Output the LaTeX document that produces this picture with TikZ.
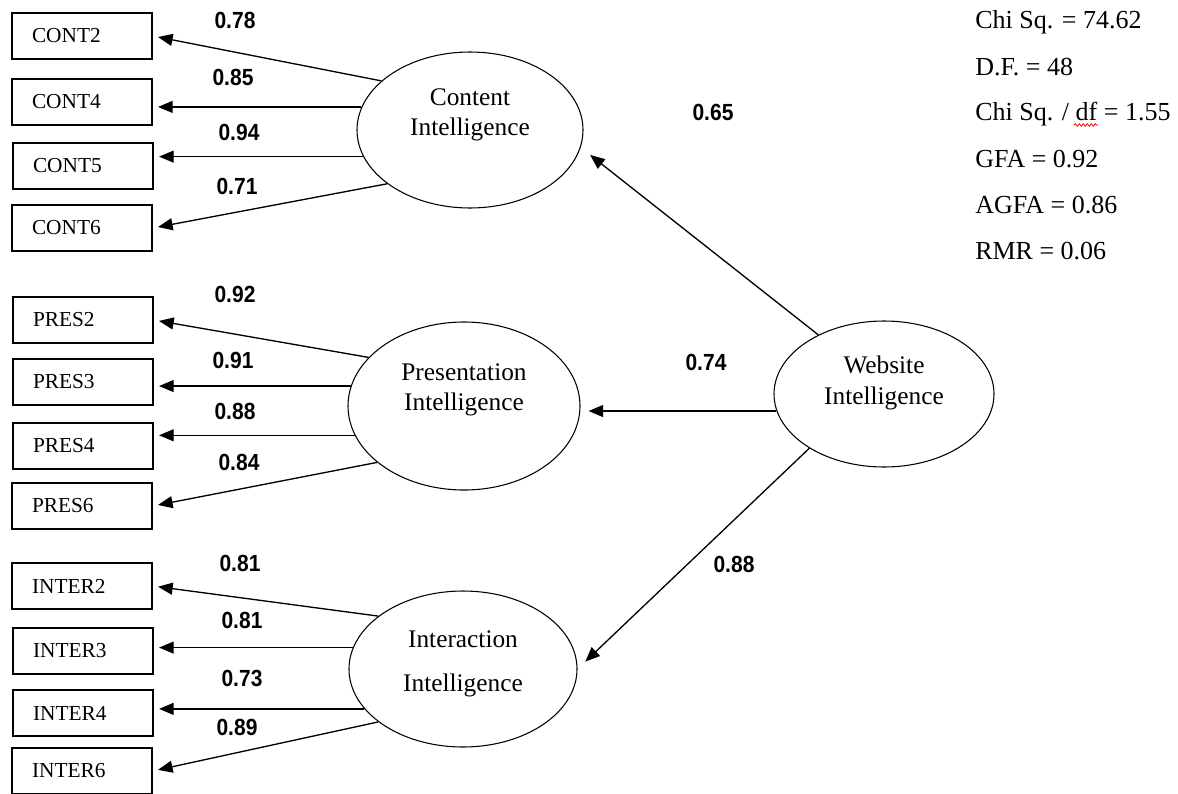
\documentclass[tikz,border=0pt]{standalone}
\usepackage{fontspec}
\setmainfont{Liberation Serif}
\newfontfamily\coeffont[FakeStretch=0.9]{Liberation Sans}
\usetikzlibrary{shapes.geometric,arrows.meta,decorations.pathmorphing}

\begin{document}
\begin{tikzpicture}
[
x=0.75pt,y=-0.75pt,
indicator/.style={draw,line width=1.1pt,rectangle,minimum height=34.5pt,text width=75pt,inner xsep=15pt,align=left,font=\fontsize{16}{19}\selectfont},
latent/.style 2 args={draw,line width=0.8pt,ellipse,inner sep=0pt,minimum width=#1,minimum height=#2},
lattext/.style={align=center,inner sep=0pt,font=\fontsize{19}{23}\selectfont},
coef/.style={inner sep=0pt,font=\coeffont\bfseries\fontsize{17.5}{20}\selectfont},
stat/.style={anchor=base west,inner sep=0pt,font=\fontsize{19.5}{23}\selectfont},
loading/.style={-{Triangle[length=11pt,width=9pt]},line width=1pt,shorten >=4pt},
]
\useasboundingbox (0,0) rectangle (1178,793);

%Place the nodes
\node[indicator] (cont2) at (82,36) {CONT2};
\node[indicator] (cont4) at (82,102) {CONT4};
\node[indicator] (cont5) at (83,166) {CONT5};
\node[indicator] (cont6) at (82,228) {CONT6};
\node[indicator] (pres2) at (83,320) {PRES2};
\node[indicator] (pres3) at (83,382) {PRES3};
\node[indicator] (pres4) at (83,446) {PRES4};
\node[indicator] (pres6) at (82,506) {PRES6};
\node[indicator] (inter2) at (82,586) {INTER2};
\node[indicator] (inter3) at (83,651) {INTER3};
\node[indicator] (inter4) at (83,713) {INTER4};
\node[indicator] (inter6) at (82,771) {INTER6};

\node[latent={169.5pt}{117pt}] (cont) at (470,130) {};
\node[latent={174pt}{126pt}] (pres) at (464,406) {};
\node[latent={171pt}{117pt}] (inter) at (463,669) {};
\node[latent={165pt}{109.5pt}] (web) at (884,394) {};
\node[lattext] (conttext) at (470,115) {Content\\Intelligence};
\node[lattext] (prestext) at (464,390) {Presentation\\Intelligence};
\node[lattext] (intertext) at (463,664) {Interaction\\[10.5pt]Intelligence};
\node[lattext] (webtext) at (884,383) {Website\\Intelligence};

%Draw the connections
\draw[loading] (cont.151) -- (cont2.east);
\draw[loading] (cont.168) -- (cont.168 -| cont4.east);
\draw[loading] (cont.194) -- (cont.194 -| cont5.east);
\draw[loading] (cont.213) -- (cont6.east);
\draw[loading] (pres.153) -- (pres2.east);
\draw[loading] (pres.170) -- (pres.170 -| pres3.east);
\draw[loading] (pres.195) -- (pres.195 -| pres4.east);
\draw[loading] (pres.213) -- (pres6.east);
\draw[loading] (inter.148) -- (inter2.east);
\draw[loading] (inter.169) -- (inter.169 -| inter3.east);
\draw[loading] (inter.202) -- (inter.202 -| inter4.east);
\draw[loading] (inter.212) -- (inter6.east);
\draw[loading,shorten >=9pt] (web.138) -- (cont.351);
\draw[loading,shorten >=6pt] (web.189) -- (web.189 -| pres.east);
\draw[loading,shorten >=8pt] (web.216) -- (inter.east);

%Coefficients
\node[coef] (lcont2) at (235,20) {0.78};
\node[coef] (lcont4) at (233,77) {0.85};
\node[coef] (lcont5) at (239,132) {0.94};
\node[coef] (lcont6) at (237,186) {0.71};
\node[coef] (lpres2) at (235,294) {0.92};
\node[coef] (lpres3) at (233,360) {0.91};
\node[coef] (lpres4) at (235,411) {0.88};
\node[coef] (lpres6) at (239,462) {0.84};
\node[coef] (linter2) at (240,563) {0.81};
\node[coef] (linter3) at (242,620) {0.81};
\node[coef] (linter4) at (242,678) {0.73};
\node[coef] (linter6) at (237,727) {0.89};
\node[coef] (lcont) at (713,112) {0.65};
\node[coef] (lpres) at (706,362) {0.74};
\node[coef] (linter) at (734,564) {0.88};

%Fit statistics
\node[stat] (chisq) at (975,28) {Chi Sq. = 74.62};
\node[stat] (df) at (975,75) {D.F. = 48};
\node[stat] (ratio) at (975,120) {Chi Sq. / df = 1.55};
\node[stat] (gfa) at (975,167) {GFA = 0.92};
\node[stat] (agfa) at (975,213) {AGFA = 0.86};
\node[stat] (rmr) at (975,259) {RMR = 0.06};
\draw[red,line width=0.6pt,decorate,decoration={snake,segment length=3pt,amplitude=1pt}] (1074,125) -- (1098,125);
\end{tikzpicture}
\end{document}
